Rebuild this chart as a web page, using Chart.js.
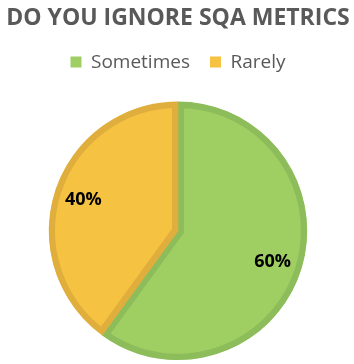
<!DOCTYPE html>
<html>
<head>
<meta charset="utf-8">
<script src="https://cdn.jsdelivr.net/npm/chart.js@4/dist/chart.umd.min.js"></script>
<style>
html,body{margin:0;padding:0;background:#fff;}
#wrap{width:354px;height:364px;}
</style>
</head>
<body>
<div id="wrap"><canvas id="c" width="354" height="364"></canvas></div>
<script>
const titleText = "DO YOU IGNORE SQA METRICS";
const categories = ["Sometimes", "Rarely"];
const values = [60, 40];
const fillColors = ["#9fcf63", "#f5c242"];
const borderColors = ["#8dbd5a", "#e0ae3c"];

const pctLabels = {
  id: 'pctLabels',
  afterDatasetsDraw(chart) {
    const ctx = chart.ctx;
    const meta = chart.getDatasetMeta(0);
    const total = values.reduce((a, b) => a + b, 0);
    ctx.save();
    ctx.font = 'bold 18px "Open Sans"';
    ctx.fillStyle = '#000';
    ctx.textAlign = 'center';
    ctx.textBaseline = 'middle';
    meta.data.forEach((arc, i) => {
      const p = arc.getProps(['x', 'y', 'startAngle', 'endAngle', 'outerRadius'], true);
      const mid = (p.startAngle + p.endAngle) / 2;
      const r = p.outerRadius * 0.77;
      ctx.fillText(Math.round(values[i] / total * 100) + '%', p.x + Math.cos(mid) * r, p.y + Math.sin(mid) * r);
    });
    ctx.restore();
  }
};

new Chart(document.getElementById('c'), {
  type: 'pie',
  data: {
    labels: categories,
    datasets: [{
      data: values,
      backgroundColor: fillColors,
      borderColor: borderColors,
      borderWidth: 6,
      borderAlign: 'inner',
      borderJoinStyle: 'miter'
    }]
  },
  options: {
    responsive: false,
    animation: false,
    layout: { padding: { left: 2, right: 0, top: 0, bottom: 4 } },
    plugins: {
      title: {
        display: true,
        text: titleText,
        color: '#595959',
        font: { family: '"Open Sans"', size: 23, weight: 'bold', lineHeight: 1.2 },
        padding: { top: 5, bottom: 0 }
      },
      subtitle: {
        display: true,
        text: '',
        weight: 500,
        font: { size: 1, lineHeight: 1 },
        padding: { top: 19, bottom: 0 }
      },
      legend: {
        display: true,
        position: 'top',
        labels: {
          color: '#595959',
          font: { family: '"Open Sans"', size: 19 },
          boxWidth: 11,
          boxHeight: 11,
          padding: 20,
          generateLabels(chart) {
            return categories.map((c, i) => ({
              text: c,
              fillStyle: fillColors[i],
              strokeStyle: fillColors[i],
              lineWidth: 0,
              fontColor: '#595959',
              index: i,
              hidden: false
            }));
          }
        }
      },
      tooltip: { enabled: false }
    }
  },
  plugins: [pctLabels]
});
</script>
</body>
</html>
